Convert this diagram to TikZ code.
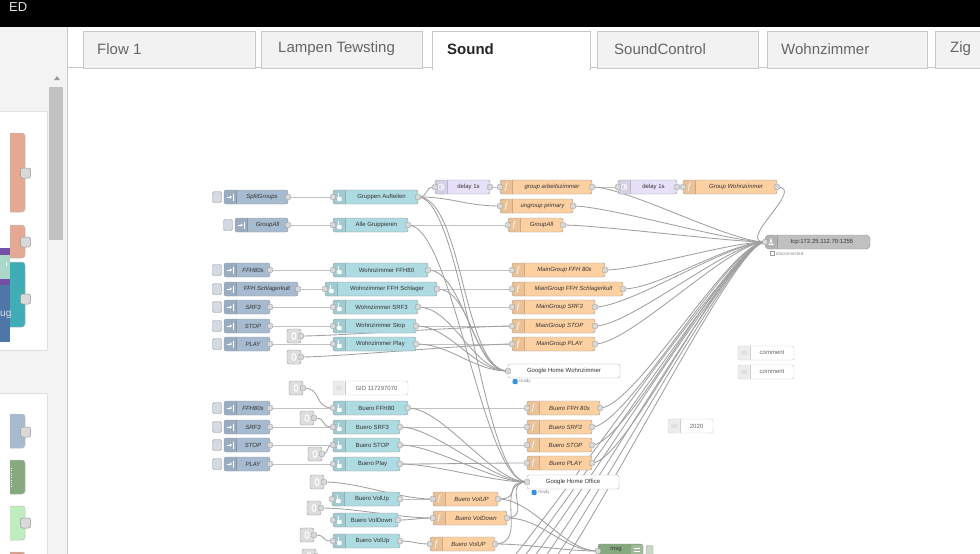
\documentclass[tikz,border=0pt]{standalone}
\usepackage{fontspec}
\setmainfont{Liberation Sans}
\newfontfamily\ffam{Liberation Serif}
\usetikzlibrary{arrows.meta}
\pgfdeclarelayer{bg}
\pgfdeclarelayer{wires}
\pgfsetlayers{bg,wires,main}

\definecolor{cinj}{HTML}{A6BBCF}
\definecolor{cchg}{HTML}{AEDAE1}
\definecolor{cfn}{HTML}{FDD0A2}
\definecolor{cdly}{HTML}{E6E0F8}
\definecolor{ctcp}{HTML}{C0C0C0}
\definecolor{cdbg}{HTML}{87A980}
\definecolor{clnk}{HTML}{DDDDDD}
\definecolor{cbord}{HTML}{999999}
\definecolor{cwire}{HTML}{A0A0A0}
\definecolor{cport}{HTML}{D9D9D9}
\definecolor{cbtn}{HTML}{D3DAE2}
\definecolor{ctext}{HTML}{333333}
\definecolor{ctab}{HTML}{F2F2F2}
\definecolor{ctabline}{HTML}{C8C8C8}
\definecolor{ctabtext}{HTML}{666666}
\definecolor{cpal}{HTML}{F3F3F3}
\definecolor{cstat}{HTML}{3D8FE0}
\definecolor{csalmon}{HTML}{E5A892}
\definecolor{cteal}{HTML}{3FADB5}
\definecolor{cpurple}{HTML}{7350A6}
\definecolor{cmint}{HTML}{AAD8C8}
\definecolor{cblue}{HTML}{4F76A8}
\definecolor{clgreen}{HTML}{C0EDC0}
\definecolor{cred}{HTML}{D99A88}

\newcommand\lblfont{\fontsize{6}{7}\selectfont}
\newcommand\stfont{\fontsize{4.6}{5}\selectfont}
\newcommand\tabfont{\fontsize{15}{16}\selectfont}

\tikzset{
 nrbox/.style={draw=cbord,line width=0.45pt,rounded corners=2.2pt,minimum height=14pt,inner sep=0pt,outer sep=0pt},
 iconpart/.style={path picture={\fill[black,opacity=0.07] (path picture bounding box.south west) rectangle ([xshift=12pt]path picture bounding box.north west);\draw[black,opacity=0.18,line width=0.4pt] ([xshift=12pt]path picture bounding box.south west) -- ([xshift=12pt]path picture bounding box.north west);}},
 lbltxt/.style={font=\lblfont,text=ctext,inner sep=0pt},
 port/.style={draw=cbord,fill=cport,line width=0.4pt,minimum width=5pt,minimum height=5pt,inner sep=0pt,rounded corners=1pt},
 pport/.style={draw=cbord,fill=cport,line width=0.5pt,minimum width=10pt,minimum height=10pt,inner sep=0pt,rounded corners=2pt},
 btn/.style={draw=cbord,fill=cbtn,line width=0.4pt,minimum width=9pt,minimum height=11pt,inner sep=0pt,rounded corners=1.5pt},
 wire/.style={draw=cwire,line width=0.85pt},
 tabbox/.style={draw=ctabline,fill=ctab,line width=0.6pt,inner sep=0pt,anchor=north west,minimum height=37pt},
 tabtxt/.style={font=\tabfont,text=ctabtext,inner sep=0pt,anchor=west},
 stdot/.style={fill=cstat,minimum size=5pt,inner sep=0pt,rounded corners=1pt},
 sttxt/.style={font=\stfont,text=black!45,inner sep=0pt,anchor=west},
 palnode/.style={draw=black!25,line width=0.5pt,rounded corners=3pt},
}

% icons
\newcommand\Iinj[1]{\draw[white,line width=0.8pt,-{Triangle[length=2.2pt,width=3pt]}] ([shift={(2.5,0)}]#1.west) -- ([shift={(8,0)}]#1.west);\draw[white,line width=0.8pt] ([shift={(9.3,-3.5)}]#1.west) -- ([shift={(9.3,3.5)}]#1.west);}
\newcommand\Ichg[1]{\fill[white] ([shift={(5,-4.5)}]#1.west) rectangle ([shift={(6.4,1)}]#1.west);\fill[white,rounded corners=0.8pt] ([shift={(4.2,0)}]#1.west) rectangle ([shift={(8.6,4)}]#1.west);}
\newcommand\Ifn[1]{\node[text=white,font=\fontsize{9}{9}\selectfont\ffam\itshape,inner sep=0pt] (#1-ic) at ([shift={(6,0)}]#1.west) {f};}
\newcommand\Idly[1]{\draw[white,line width=0.6pt] ([shift={(6,0)}]#1.west) circle[radius=3pt];\draw[white,line width=0.5pt] ([shift={(6,0)}]#1.west) -- ([shift={(6,-2)}]#1.west) ([shift={(6,0)}]#1.west) -- ([shift={(7.5,0)}]#1.west);}
\newcommand\Ilnk[1]{\draw[white,line width=0.9pt] (#1.center) ellipse [x radius=2pt, y radius=3.5pt];}
\newcommand\Icmt[1]{\fill[black!12,rounded corners=1pt] ([shift={(3,-2.5)}]#1.west) rectangle ([shift={(9,2)}]#1.west);}

% node types: name, x-left, x-right, y-centre, label
\newcommand\Nbody[5]{\node[nrbox,#5,minimum width={(#3)-(#2)},anchor=west] (#1) at (#2,#4) {};}
\newcommand\Ninj[5]{%
 \Nbody{#1}{#2}{#3}{#4}{fill=cinj,iconpart}%
 \node[btn] (#1-b) at ({(#2)-7},#4) {};%
 \node[lbltxt,font=\lblfont\itshape] (#1-l) at ({((#2)+(#3)+12)/2},#4) {#5};%
 \Iinj{#1}%
 \node[port] (#1-o) at (#1.east) {};}
\newcommand\Nchg[5]{%
 \Nbody{#1}{#2}{#3}{#4}{fill=cchg,iconpart}%
 \node[lbltxt] (#1-l) at ({((#2)+(#3)+12)/2},#4) {#5};%
 \Ichg{#1}%
 \node[port] (#1-i) at (#1.west) {};\node[port] (#1-o) at (#1.east) {};}
\newcommand\Nfn[5]{%
 \Nbody{#1}{#2}{#3}{#4}{fill=cfn,iconpart}%
 \node[lbltxt,font=\lblfont\itshape] (#1-l) at ({((#2)+(#3)+12)/2},#4) {#5};%
 \Ifn{#1}%
 \node[port] (#1-i) at (#1.west) {};\node[port] (#1-o) at (#1.east) {};}
\newcommand\Ndly[5]{%
 \Nbody{#1}{#2}{#3}{#4}{fill=cdly,iconpart}%
 \node[lbltxt] (#1-l) at ({((#2)+(#3)+12)/2},#4) {#5};%
 \Idly{#1}%
 \node[port] (#1-i) at (#1.west) {};\node[port] (#1-o) at (#1.east) {};}
\newcommand\Ngh[5]{%
 \Nbody{#1}{#2}{#3}{#4}{fill=white,draw=black!30}%
 \node[lbltxt] (#1-l) at ({((#2)+(#3))/2},#4) {#5};%
 \node[port] (#1-i) at (#1.west) {};%
 \node[stdot] (#1-s) at ({(#2)+7},{(#4)+10.5}) {};%
 \node[sttxt] (#1-st) at ({(#2)+11},{(#4)+10.5}) {ready};}
\newcommand\Ncmt[5]{%
 \Nbody{#1}{#2}{#3}{#4}{fill=white,draw=black!20,iconpart}%
 \node[lbltxt,text=black!60] (#1-l) at ({((#2)+(#3)+12)/2},#4) {#5};%
 \Icmt{#1}}
\newcommand\Nlnk[3]{%
 \node[nrbox,fill=clnk,minimum width=14pt,anchor=west] (#1) at (#2,#3) {};%
 \Ilnk{#1}%
 \node[port] (#1-o) at (#1.east) {};}

\newcommand\Nwire[3][35]{\draw[wire] (#2.east) .. controls +(#1,0) and +(-#1,0) .. (#3.west);}
\newcommand\Cwire[3][35]{\draw[wire] (#2) .. controls +(#1,0) and +(-#1,0) .. (#3.west);}

\begin{document}
\begin{tikzpicture}[x=1pt,y=-1pt]
\useasboundingbox (0,0) rectangle (980,554);

\begin{pgfonlayer}{bg}
\fill[white] (0,0) rectangle (980,554);
\fill[black] (0,0) rectangle (980,27);
\end{pgfonlayer}

% header remnant
\node[anchor=base west,text=black!12,font=\fontsize{13}{13}\selectfont,inner sep=0pt] (hdr) at (9,11) {ED};

% tab bar
\draw[ctabline,line width=0.6pt] (68,67.5) -- (980,67.5);
\node[tabbox,minimum width=172pt] (tab1) at (83,31) {};
\node[tabbox,minimum width=161pt] (tab2) at (261,31) {};
\node[tabbox,minimum width=161pt] (tab4) at (597,31) {};
\node[tabbox,minimum width=160pt] (tab5) at (767,31) {};
\node[tabbox,minimum width=80pt] (tab6) at (935,31) {};
\node[tabbox,fill=white,minimum width=158pt,minimum height=38pt] (tab3) at (432,31) {};
\fill[white] (433,66) rectangle (589,70);
\node[tabtxt] (tab1-t) at (97,49) {Flow 1};
\node[tabtxt] (tab2-t) at (278,49) {Lampen Tewsting};
\node[tabtxt,font=\tabfont\bfseries,text=black!85] (tab3-t) at (447,49) {Sound};
\node[tabtxt] (tab4-t) at (614,49) {SoundControl};
\node[tabtxt] (tab5-t) at (781,49) {Wohnzimmer};
\node[tabtxt] (tab6-t) at (950,49) {Zig};

% palette
\fill[cpal] (0,27) rectangle (67,554);
\fill[white] (0,111) rectangle (47,350);
\fill[white] (0,393) rectangle (47,554);
\draw[black!12,line width=0.5pt] (0,111) -- (47,111) -- (47,350) -- (0,350);
\draw[black!12,line width=0.5pt] (0,393) -- (47,393) -- (47,554);
\draw[ctabline,line width=0.6pt] (67.5,27) -- (67.5,554);
\fill[black!24] (49,87) rectangle (63,240);
\fill[black!40] (54,80) -- (60,80) -- (57,76) -- cycle;
\begin{scope}
\clip (10,100) rectangle (47,554);
\filldraw[palnode,fill=csalmon] (2,133) rectangle (25,212);
\filldraw[palnode,fill=csalmon] (2,225) rectangle (25,258);
\filldraw[palnode,fill=cteal] (2,262) rectangle (25,327);
\filldraw[palnode,fill=cinj] (2,414) rectangle (25,448);
\filldraw[palnode,fill=cdbg] (2,460) rectangle (25,494);
\filldraw[palnode,fill=clgreen] (2,506) rectangle (25,540);
\filldraw[palnode,fill=cred] (2,552) rectangle (25,580);
\end{scope}
\draw[white,line width=0.8pt,dash pattern=on 1pt off 1.3pt] (11.5,468) -- (11.5,488);
\node[pport] (pp1) at (25.5,173) {};
\node[pport] (pp2) at (25.5,242) {};
\node[pport] (pp3) at (25.5,299) {};
\node[pport] (pp4) at (25.5,432) {};
\node[pport] (pp5) at (25.5,523) {};
\fill[cpurple] (0,248) rectangle (10,255);
\fill[cmint] (0,255) rectangle (10,279);
\fill[white] (6,262) rectangle (7.3,266);
\fill[cpurple] (0,279) rectangle (10,285);
\fill[cblue] (0,285) rectangle (10,342);
\node[anchor=west,text=white!88!black,font=\fontsize{10}{10}\selectfont,inner sep=0pt] (ugtxt) at (0,315) {ug};

% ---------- flow nodes: upper part ----------
\Ninj{iSplit}{224}{288}{197}{SplitGroups}
\Ninj{iAll}{235}{288}{225}{GroupAll}
\Ninj{iFFH}{224}{270}{270}{FFH80s}
\Ninj{iSchl}{224}{298}{289}{FFH Schlagerkult}
\Ninj{iSRF}{224}{270}{307}{SRF3}
\Ninj{iSTOP}{224}{270}{326}{STOP}
\Ninj{iPLAY}{224}{270}{344}{PLAY}

\Nchg{cSplit}{333}{418}{197}{Gruppen Aufteilen}
\Nchg{cAll}{333}{408}{225}{Alle Gruppieren}
\Nchg{cFFH}{333}{428}{270}{Wohnzimmer FFH80}
\Nchg{cSchl}{325}{437}{289}{Wohnzimmer FFH Schlager}
\Nchg{cSRF}{333}{418}{307}{Wohnzimmer SRF3}
\Nchg{cSTOP}{333}{416}{326}{Wohnzimmer Stop}
\Nchg{cPLAY}{333}{416}{344}{Wohnzimmer Play}

\Nlnk{l1}{287}{336}
\Nlnk{l2}{287}{357}

\Ndly{d1}{435}{490}{187}{delay 1s}
\Nfn{fArb}{500}{592}{187}{group arbeitszimmer}
\Ndly{d2}{618}{677}{187}{delay 1s}
\Nfn{fWohn}{683}{777}{187}{Group Wohnzimmer}
\Nfn{fUng}{500}{573}{206}{ungroup primary}
\Nfn{fAll}{508}{563}{225}{GroupAll}
\Nfn{mFFH}{512}{605}{270}{MainGroup FFH 80s}
\Nfn{mSchl}{512}{623}{289}{MainGroup FFH Schlagerkult}
\Nfn{mSRF}{512}{595}{307}{MainGroup SRF3}
\Nfn{mSTOP}{512}{595}{326}{MainGroup STOP}
\Nfn{mPLAY}{512}{595}{344}{MainGroup PLAY}
\Ngh{ghw}{508}{620}{371}{Google Home Wohnzimmer}

% tcp out
\node[nrbox,fill=ctcp,iconpart,minimum width=105pt,anchor=west,rounded corners=4pt] (tcp) at (765,242) {};
\node[lbltxt] (tcp-l) at (822,242) {tcp:172.25.112.70:1255};
\draw[white,line width=0.8pt] ([shift={(3.5,2.5)}]tcp.west) -- ([shift={(8.5,2.5)}]tcp.west) ([shift={(4.5,2.5)}]tcp.west) -- ([shift={(6,-3)}]tcp.west) -- ([shift={(7.5,2.5)}]tcp.west);
\node[port] (tcp-i) at (tcp.west) {};
\node[draw=black!40,fill=white,line width=0.4pt,minimum size=4pt,inner sep=0pt] (tcp-s) at (772,253.5) {};
\node[sttxt] (tcp-st) at (776,253.5) {disconnected};

% comments
\Ncmt{cm1}{738}{794}{353}{comment}
\Ncmt{cm2}{738}{794}{372}{comment}
\Ncmt{cm3}{668}{713}{426}{2020}

% ---------- lower part ----------
\Nlnk{l3}{289}{388}
\Ncmt{gid}{333}{408}{388}{GID 117297070}
\Ninj{bFFH}{224}{270}{408}{FFH80s}
\Nchg{bcFFH}{333}{408}{408}{Buero FFH80}
\Nlnk{l4}{300}{418}
\Ninj{bSRF}{224}{270}{427}{SRF3}
\Nchg{bcSRF}{333}{400}{427}{Buero SRF3}
\Ninj{bSTOP}{224}{270}{445}{STOP}
\Nchg{bcSTOP}{333}{400}{445}{Buero STOP}
\Nlnk{l5}{308}{454}
\Ninj{bPLAY}{224}{270}{464}{PLAY}
\Nchg{bcPLAY}{333}{400}{464}{Buero Play}
\Nlnk{l6}{310}{482}
\Nchg{bcVU}{332}{400}{499}{Buero VolUp}
\Nlnk{l7}{307}{508}
\Nchg{bcVD}{333}{398}{520}{Buero VolDown}
\Nlnk{l8}{300}{535}
\Nchg{bcVU2}{333}{400}{541}{Buero VolUp}
\Nlnk{l9}{302}{556}

\Nfn{bfFFH}{527}{600}{408}{Buero FFH 80s}
\Nfn{bfSRF}{527}{592}{427}{Buero SRF3}
\Nfn{bfSTOP}{527}{592}{445}{Buero STOP}
\Nfn{bfPLAY}{527}{592}{463}{Buero PLAY}
\Ngh{gho}{527}{619}{482}{Google Home Office}
\Nfn{bfVU}{433}{498}{499}{Buero VolUP}
\Nfn{bfVD}{433}{507}{518}{Buero VolDown}
\Nfn{bfVU2}{430}{495}{544}{Buero VolUP}

% debug
\node[nrbox,fill=cdbg,minimum width=45pt,anchor=west] (msg) at (598,551) {};
\fill[white,opacity=0.2] (631,544.5) rectangle (642.5,557.5);
\draw[white,line width=0.6pt] (634,548) -- (640,548) (634,551) -- (640,551) (634,554) -- (640,554);
\node[lbltxt] (msg-l) at (616,550) {msg};
\node[port] (msg-i) at (msg.west) {};
\node[btn,fill=cdbg!45!white,minimum width=7pt] (msg-b) at (649.5,551) {};

\coordinate (o1) at (458,612);
\coordinate (o2) at (470,612);
\coordinate (o3) at (482,612);
\coordinate (o4) at (495,612);
\coordinate (o5) at (508,612);
\coordinate (o6) at (521,612);

% ---------- wires ----------
\begin{pgfonlayer}{wires}
\begin{scope}
\clip (68,68) rectangle (980,554);
\Nwire{iSplit}{cSplit}
\Nwire[12]{cSplit}{d1}
\Nwire{cSplit}{fUng}
\Nwire[45]{cSplit}{ghw}
\Nwire[45]{cSplit}{gho}
\Nwire[12]{d1}{fArb}
\Nwire[15]{fArb}{d2}
\Nwire{fArb}{tcp}
\Nwire[6]{d2}{fWohn}
\Nwire[30]{fWohn}{tcp}
\Nwire{fUng}{tcp}
\Nwire{iAll}{cAll}
\Nwire{cAll}{fAll}
\Nwire[45]{cAll}{gho}
\Nwire{fAll}{tcp}
\Nwire{iFFH}{cFFH}
\Nwire{cFFH}{mFFH}
\Nwire{cFFH}{ghw}
\Nwire{mFFH}{tcp}
\Nwire{iSchl}{cSchl}
\Nwire{cSchl}{mSchl}
\Nwire{cSchl}{ghw}
\Nwire{mSchl}{tcp}
\Nwire{iSRF}{cSRF}
\Nwire{cSRF}{mSRF}
\Nwire{cSRF}{ghw}
\Nwire{mSRF}{tcp}
\Nwire{iSTOP}{cSTOP}
\Nwire{cSTOP}{mSTOP}
\Nwire{cSTOP}{ghw}
\Nwire{mSTOP}{tcp}
\Nwire{iPLAY}{cPLAY}
\Nwire{cPLAY}{mPLAY}
\Nwire{cPLAY}{ghw}
\Nwire{mPLAY}{tcp}
\Nwire{l1}{mSTOP}
\Nwire{l2}{mPLAY}
% lower
\Nwire[20]{l3}{bcFFH}
\Nwire{bFFH}{bcFFH}
\Nwire{bcFFH}{bfFFH}
\Nwire{bcFFH}{gho}
\Nwire{bfFFH}{tcp}
\Nwire[15]{l4}{bcSRF}
\Nwire{bSRF}{bcSRF}
\Nwire{bcSRF}{bfSRF}
\Nwire{bcSRF}{gho}
\Nwire{bfSRF}{tcp}
\Nwire[8]{l5}{bcSTOP}
\Nwire{bSTOP}{bcSTOP}
\Nwire{bcSTOP}{bfSTOP}
\Nwire{bcSTOP}{gho}
\Nwire{bfSTOP}{tcp}
\Nwire{bPLAY}{bcPLAY}
\Nwire{bcPLAY}{bfPLAY}
\Nwire{bcPLAY}{gho}
\Nwire{bfPLAY}{tcp}
\Nwire{l6}{bfVU}
\Nwire[15]{bcVU}{bfVU}
\Nwire{l7}{bfVD}
\Nwire[15]{bcVD}{bfVD}
\Nwire[15]{l8}{bcVU2}
\Nwire[15]{bcVU2}{bfVU2}
\Nwire[25]{bfVU}{gho}
\Nwire{bfVU}{msg}
\Nwire[25]{bfVD}{gho}
\Nwire{bfVD}{msg}
\Nwire{bfVU2}{msg}
\Nwire{bfVU2}{gho}
\Cwire{o1}{tcp}
\Cwire{o2}{tcp}
\Cwire{o3}{tcp}
\Cwire{o4}{tcp}
\Cwire{o5}{tcp}
\Cwire{o6}{tcp}
\end{scope}
\end{pgfonlayer}
\end{tikzpicture}
\end{document}
